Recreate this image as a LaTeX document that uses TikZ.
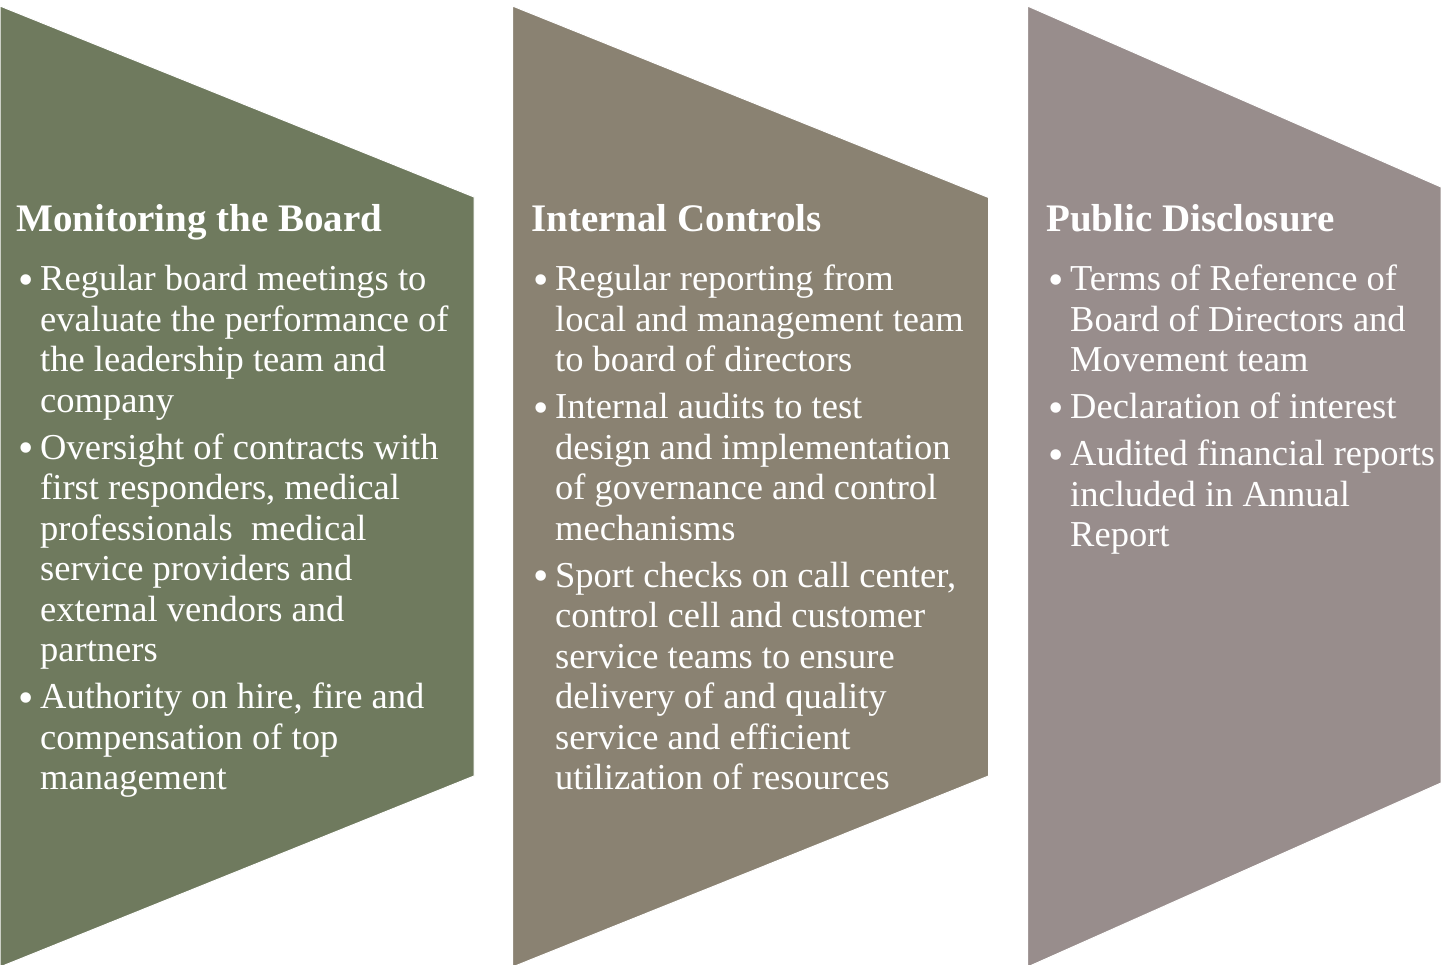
\documentclass[tikz,border=0pt]{standalone}
\usepackage{fontspec}
\usepackage{graphicx}
\setmainfont{Liberation Serif}
\definecolor{cgreen}{RGB}{111,122,94}
\definecolor{ctaupe}{RGB}{138,130,114}
\definecolor{cmauve}{RGB}{152,141,140}
\newcommand{\mybullet}{\hbox to 24pt{\hskip2pt\raisebox{-0.09em}{\scalebox{1.2}{\textbullet}}\hfil}}
\newcommand{\fitem}{\hangindent=24pt\hangafter=1\noindent\mybullet}
\newcommand{\bitem}{\par\vskip6.5pt\relax\hangindent=24pt\hangafter=1\noindent\mybullet}
\newcommand{\colbody}[1]{\vtop{\hsize=480pt\parindent=0pt\parskip=0pt\fontsize{36.5}{40.5}\selectfont\baselineskip=40.5pt\lineskiplimit=-100pt#1\par}}
\tikzset{
  panel/.style={draw=white, line width=1pt},
  ttl/.style={anchor=base west, inner sep=0pt, text=white, font=\fontsize{39}{44}\selectfont\bfseries},
  body/.style={anchor=base west, inner sep=0pt, text=white}
}
\begin{document}
\begin{tikzpicture}[x=1pt,y=-1pt]
\useasboundingbox (0,0) rectangle (1441,965);
\fill[white] (0,0) rectangle (1441,965);
\path[panel, fill=cgreen] (0,6) -- (474,197) -- (474,776) -- (0,967) -- cycle;
\path[panel, fill=ctaupe] (512.5,6) -- (988.5,197.5) -- (988.5,776) -- (512.5,967) -- cycle;
\path[panel, fill=cmauve] (1027.5,6) -- (1441,187) -- (1441,783) -- (1027.5,967) -- cycle;

\node[ttl] (t1) at (16,232) {Monitoring the Board};
\node[ttl] (t2) at (531,232) {Internal Controls};
\node[ttl] (t3) at (1046,232) {Public Disclosure};

\node[body] (b1) at (16,291) {\colbody{%
\fitem Regular board meetings to\newline evaluate the performance of\newline the leadership team and\newline company
\bitem Oversight of contracts with\newline first responders, medical\newline professionals\ \ medical\newline service providers and\newline external vendors and\newline partners
\bitem Authority on hire, fire and\newline compensation of top\newline management}};

\node[body] (b2) at (531,291) {\colbody{%
\fitem Regular reporting from\newline local and management team\newline to board of directors
\bitem Internal audits to test\newline design and implementation\newline of governance and control\newline mechanisms
\bitem Sport checks on call center,\newline control cell and customer\newline service teams to ensure\newline delivery of and quality\newline service and efficient\newline utilization of resources}};

\node[body] (b3) at (1046,291) {\colbody{%
\fitem Terms of Reference of\newline Board of Directors and\newline Movement team
\bitem Declaration of interest
\bitem Audited financial reports\newline included in Annual\newline Report}};
\end{tikzpicture}
\end{document}
